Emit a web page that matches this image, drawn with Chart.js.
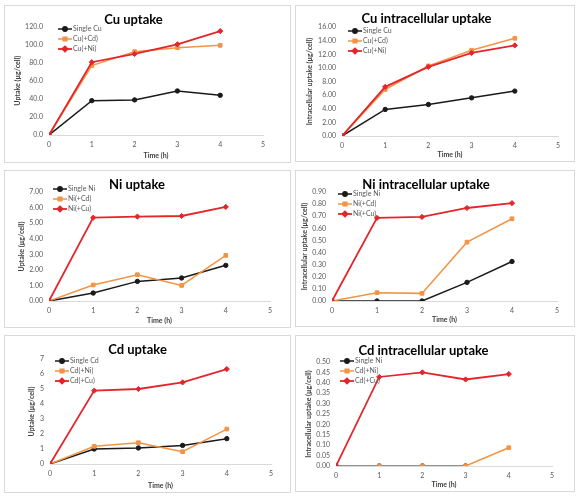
<!DOCTYPE html>
<html>
<head>
<meta charset="utf-8">
<script src="https://cdn.jsdelivr.net/npm/chart.js@4.4.0/dist/chart.umd.min.js"></script>
<style>
  body { margin: 0; background: #fff; }
  .panel { position: absolute; }
  .frame { position: absolute; border: 1px solid #d9d9d9; box-sizing: border-box; pointer-events: none; }
</style>
</head>
<body>
<script>
// time points (h)
const hours = [0, 1, 2, 3, 4];

// Cu uptake
const cuSingle = [0, 38.0, 38.8, 48.7, 43.9];
const cuWithCd = [0, 76.8, 92.2, 96.6, 99.2];
const cuWithNi = [0, 80.5, 89.6, 100.3, 114.9];

// Cu intracellular uptake
const cuInSingle = [0, 3.90, 4.63, 5.60, 6.59];
const cuInWithCd = [0, 6.83, 10.29, 12.59, 14.34];
const cuInWithNi = [0, 7.22, 10.15, 12.20, 13.30];

// Ni uptake
const niSingle = [0, 0.51, 1.26, 1.48, 2.29];
const niWithCd = [0, 1.03, 1.69, 1.00, 2.93];
const niWithCu = [0, 5.35, 5.42, 5.46, 6.04];

// Ni intracellular uptake
const niInSingle = [0, 0, 0, 0.154, 0.326];
const niInWithCd = [0, 0.069, 0.063, 0.486, 0.679];
const niInWithCu = [0, 0.686, 0.694, 0.768, 0.808];

// Cd uptake
const cdSingle = [0, 1.00, 1.07, 1.24, 1.69];
const cdWithNi = [0, 1.18, 1.42, 0.82, 2.33];
const cdWithCu = [0, 4.89, 5.00, 5.44, 6.33];

// Cd intracellular uptake (single series not visible past 3 h)
const cdInSingle = [0, 0, 0, 0, null];
const cdInWithNi = [0, 0, 0, 0, 0.088];
const cdInWithCu = [0, 0.428, 0.450, 0.416, 0.442];

const charts = [
  { title: 'Cu uptake', yTitle: 'Uptake (µg/cell)', labels: ['Single Cu', 'Cu(+Cd)', 'Cu(+Ni)'],
    series: [cuSingle, cuWithCd, cuWithNi], yMax: 120, yStep: 20, dec: 1 },
  { title: 'Cu intracellular uptake', yTitle: 'Intracellular uptake (µg/cell)', labels: ['Single Cu', 'Cu(+Cd)', 'Cu(+Ni)'],
    series: [cuInSingle, cuInWithCd, cuInWithNi], yMax: 16, yStep: 2, dec: 2 },
  { title: 'Ni uptake', yTitle: 'Uptake (µg/cell)', labels: ['Single Ni', 'Ni(+Cd)', 'Ni(+Cu)'],
    series: [niSingle, niWithCd, niWithCu], yMax: 7, yStep: 1, dec: 2 },
  { title: 'Ni intracellular uptake', yTitle: 'Intracellular uptake (µg/cell)', labels: ['Single Ni', 'Ni(+Cd)', 'Ni(+Cu)'],
    series: [niInSingle, niInWithCd, niInWithCu], yMax: 0.9, yStep: 0.1, dec: 2 },
  { title: 'Cd uptake', yTitle: 'Uptake (µg/cell)', labels: ['Single Cd', 'Cd(+Ni)', 'Cd(+Cu)'],
    series: [cdSingle, cdWithNi, cdWithCu], yMax: 7, yStep: 1, dec: 0 },
  { title: 'Cd intracellular uptake', yTitle: 'Intracellular uptake (µg/cell)', labels: ['Single Ni', 'Cd(+Ni)', 'Cd(+Cu)'],
    series: [cdInSingle, cdInWithNi, cdInWithCu], yMax: 0.5, yStep: 0.05, dec: 2 }
];

// page layout: panel box, plot area, title centre, y-title centre, legend anchor
const layouts = [
  { box: [4, 5, 287, 158],   plot: [49, 26, 263, 135],   titleY: 20,  yTitleX: 18,  legend: [58, 29] },
  { box: [295, 5, 280, 157], plot: [342, 27, 558, 136],  titleY: 19,  yTitleX: 310, legend: [348, 31] },
  { box: [4, 170, 287, 158], plot: [49, 192, 270, 301],  titleY: 185, yTitleX: 22,  legend: [53, 189] },
  { box: [295, 170, 280, 157], plot: [332, 192, 557, 301], titleY: 185, yTitleX: 305, legend: [338, 194] },
  { box: [4, 335, 287, 158], plot: [50, 359, 271, 464],  titleY: 350, yTitleX: 32,  legend: [55, 361] },
  { box: [295, 335, 280, 157], plot: [336, 362, 552, 466], titleY: 351, yTitleX: 309, legend: [340, 361] }
];

const colors = ['#1a1a1a', '#F39344', '#E3262B'];
const markers = ['circle', 'rect', 'rectRot'];
const radii = [2.2, 2.6, 2.6];
const widths = [1.5, 1.5, 1.8];
const FONT = 'Lato, "Open Sans", sans-serif';

// legend drawn inside the plot, line + marker + text like Excel
const insideLegend = {
  id: 'insideLegend',
  afterDraw(chart, args, opts) {
    const ctx = chart.ctx;
    ctx.save();
    ctx.font = '7px ' + FONT;
    ctx.textBaseline = 'middle';
    chart.data.datasets.forEach((ds, i) => {
      const x = opts.x, y = opts.y + i * 10;
      ctx.strokeStyle = ds.borderColor;
      ctx.fillStyle = ds.borderColor;
      ctx.lineWidth = ds.borderWidth;
      ctx.beginPath();
      ctx.moveTo(x, y);
      ctx.lineTo(x + 14, y);
      ctx.stroke();
      Chart.helpers.drawPoint(ctx, {
        pointStyle: ds.pointStyle, radius: ds.pointRadius, borderWidth: 1
      }, x + 7, y);
      ctx.fillStyle = '#595959';
      ctx.fillText(ds.label, x + 15, y);
    });
    ctx.restore();
  }
};

charts.forEach((c, k) => {
  const L = layouts[k];
  const [bx, by, bw, bh] = L.box;
  const [pl, pt, pr, pb] = L.plot;

  const wrap = document.createElement('div');
  wrap.className = 'panel';
  wrap.style.left = bx + 'px';
  wrap.style.top = by + 'px';
  const canvas = document.createElement('canvas');
  canvas.width = bw;
  canvas.height = bh;
  canvas.style.width = bw + 'px';
  canvas.style.height = bh + 'px';
  wrap.appendChild(canvas);
  document.body.appendChild(wrap);

  const frame = document.createElement('div');
  frame.className = 'frame';
  frame.style.left = bx + 'px';
  frame.style.top = by + 'px';
  frame.style.width = bw + 'px';
  frame.style.height = bh + 'px';
  document.body.appendChild(frame);

  const titleLine = 13;
  const tPadTop = L.titleY - by - titleLine / 2;
  const tPadBottom = Math.max(0, (pt - by) - tPadTop - titleLine);

  const datasets = c.series.map((s, i) => ({
    label: c.labels[i],
    data: hours.map((h, j) => ({ x: h, y: s[j] })),
    borderColor: colors[i],
    backgroundColor: colors[i],
    pointBackgroundColor: colors[i],
    pointBorderColor: colors[i],
    borderWidth: widths[i],
    pointStyle: markers[i],
    pointRadius: radii[i],
    pointBorderWidth: 1,
    order: 3 - i,
    tension: 0
  }));

  new Chart(canvas.getContext('2d'), {
    type: 'line',
    data: { datasets: datasets },
    options: {
      responsive: false,
      animation: false,
      layout: { padding: { left: 0, top: 0, bottom: 0, right: (bx + bw) - pr } },
      plugins: {
        legend: { display: false },
        tooltip: { enabled: false },
        title: {
          display: true,
          text: c.title,
          color: '#000',
          font: { family: FONT, size: 13, weight: 'bold', lineHeight: 1 },
          padding: { top: tPadTop, bottom: tPadBottom }
        },
        insideLegend: { x: L.legend[0] - bx, y: L.legend[1] - by }
      },
      scales: {
        x: {
          type: 'linear',
          min: 0, max: 5,
          grid: { display: false, drawTicks: false },
          border: { display: true, color: '#d9d9d9', width: 1 },
          ticks: { stepSize: 1, padding: 6, color: '#595959', font: { family: FONT, size: 7 } },
          title: {
            display: true, text: 'Time (h)', color: '#404040',
            font: { family: FONT, size: 7, weight: 'bold' }, padding: { top: 0, bottom: 3 }
          },
          afterFit: (s) => { s.height = (by + bh) - pb; }
        },
        y: {
          min: 0, max: c.yMax,
          grid: { display: false, drawTicks: false },
          border: { display: false },
          ticks: {
            stepSize: c.yStep, autoSkip: false, padding: 6, color: '#595959', font: { family: FONT, size: 7 },
            callback: (v) => v.toFixed(c.dec)
          },
          title: {
            display: true, text: c.yTitle, color: '#404040',
            font: { family: FONT, size: 7, weight: 'bold' },
            padding: { top: L.yTitleX - bx - 4.2, bottom: 0 }
          },
          afterFit: (s) => { s.width = pl - bx; }
        }
      }
    },
    plugins: [insideLegend]
  });
});
</script>
</body>
</html>
